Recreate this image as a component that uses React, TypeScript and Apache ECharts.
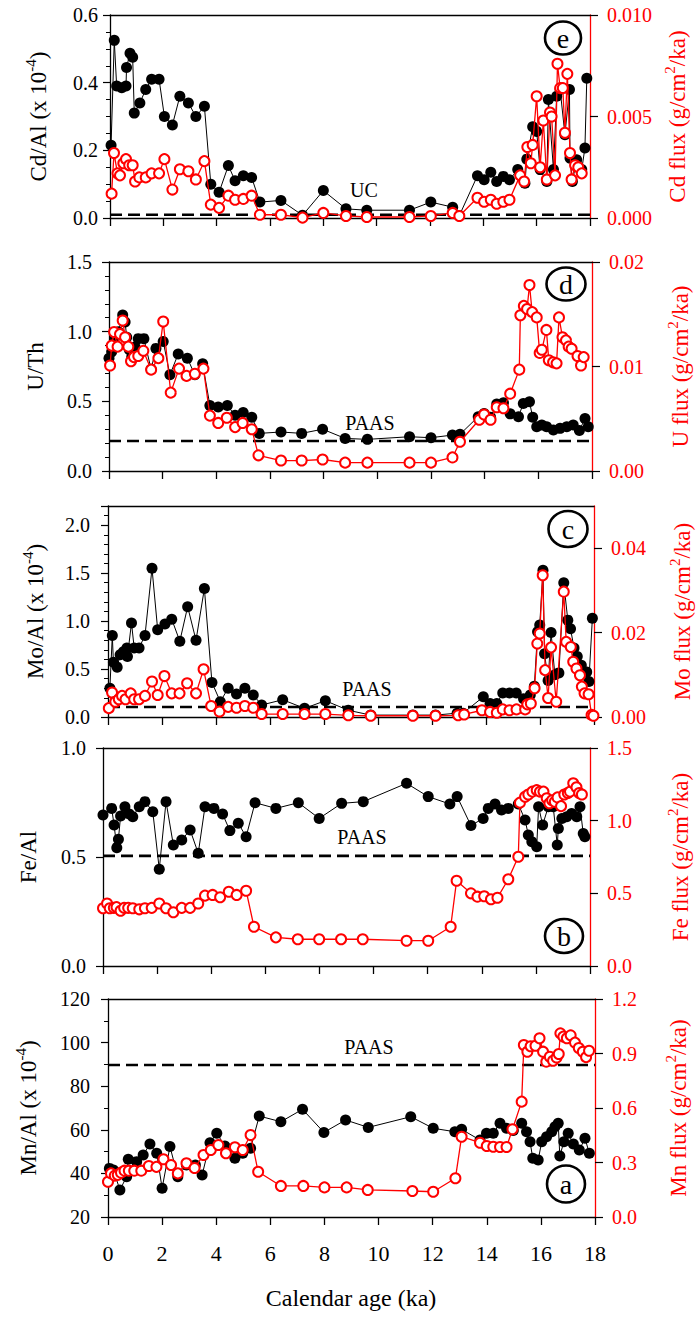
import React, { useEffect, useRef } from "react";
import * as echarts from "echarts";

// ---------- data (age in ka) ----------
// Panel e: Cd/Al (x10^-4) and Cd flux
const eAge = [0.04,0.16,0.25,0.44,0.6,0.62,0.75,0.85,0.91,1.12,1.34,1.56,1.84,2.04,2.34,2.62,2.94,3.22,3.54,3.78,4.09,4.44,4.69,5.0,5.31,5.62,6.41,7.22,8.0,8.85,9.63,11.23,12.03,12.85,13.1,13.78,14.03,14.28,14.5,14.75,14.98,15.29,15.56,15.63,15.85,16.0,16.13,16.38,16.44,16.63,16.75,16.88,17.06,17.23,17.25,17.34,17.5,17.69,17.81,17.88];
const eCdAl = [0.215,0.525,0.39,0.385,0.39,0.445,0.487,0.475,0.31,0.34,0.38,0.41,0.41,0.30,0.275,0.36,0.34,0.30,0.33,0.10,0.076,0.155,0.11,0.125,0.12,0.047,0.052,0.008,0.081,0.027,0.023,0.023,0.047,0.032,0.007,0.125,0.113,0.135,0.108,0.123,0.113,0.143,0.103,0.174,0.27,0.256,0.143,0.108,0.35,0.143,0.36,0.38,0.246,0.38,0.177,0.108,0.172,0.143,0.207,0.413];
const eFluxAge = [0.06,0.15,0.28,0.375,0.5,0.6,0.72,0.85,0.94,1.1,1.34,1.56,1.84,2.04,2.34,2.62,2.94,3.22,3.54,3.78,4.09,4.44,4.69,5.0,5.31,5.62,6.41,7.22,8.0,8.85,9.63,11.23,12.03,12.85,13.1,13.78,14.03,14.28,14.5,14.75,14.98,15.38,15.53,15.65,15.78,15.85,16.0,16.13,16.25,16.38,16.5,16.56,16.69,16.78,16.88,16.98,17.06,17.15,17.25,17.31,17.44,17.56,17.69];
const eCdFlux = [0.0012,0.0032,0.0022,0.0021,0.0027,0.0029,0.0026,0.0026,0.0018,0.002,0.002,0.0022,0.0022,0.0029,0.0014,0.0024,0.0023,0.0019,0.0028,0.00066,0.0005,0.0011,0.0009,0.00094,0.0011,0.00016,0.00016,0.00002,0.00025,0.0001,0.00005,0.00005,0.0001,0.00025,0.0001,0.001,0.0008,0.0009,0.0007,0.0008,0.0009,0.0021,0.0018,0.0035,0.0027,0.0036,0.006,0.0025,0.0048,0.0019,0.0052,0.005,0.0021,0.0076,0.0064,0.0064,0.0042,0.0071,0.0032,0.0019,0.0026,0.0025,0.0022];
const eUC = 0.0098;

// Panel d: U/Th and U flux
const dAge = [0.0,0.1,0.22,0.35,0.51,0.6,0.66,0.76,0.85,0.97,1.09,1.3,1.57,1.75,2.02,2.27,2.58,2.92,3.2,3.49,3.76,4.07,4.41,4.7,5.0,5.32,5.6,6.41,7.18,7.96,8.8,9.63,11.2,12.0,12.8,13.08,13.76,13.98,14.22,14.45,14.7,14.95,15.26,15.44,15.67,15.79,15.94,16.13,16.31,16.56,16.81,17.06,17.3,17.53,17.74,17.86];
const dUTh = [0.81,0.855,0.96,1.0,1.12,1.07,0.96,0.87,0.82,0.89,0.95,0.95,0.73,0.88,0.93,0.69,0.84,0.81,0.69,0.77,0.47,0.46,0.47,0.40,0.42,0.385,0.27,0.28,0.27,0.30,0.234,0.227,0.246,0.239,0.258,0.263,0.39,0.413,0.385,0.48,0.49,0.41,0.39,0.485,0.497,0.385,0.318,0.33,0.318,0.294,0.306,0.318,0.33,0.29,0.377,0.318];
const dFluxAge = [0.04,0.1,0.19,0.32,0.41,0.51,0.6,0.72,0.82,0.93,1.09,1.28,1.57,1.84,2.02,2.3,2.61,2.89,3.2,3.52,3.76,4.07,4.39,4.7,4.98,5.32,5.57,6.41,7.18,7.96,8.8,9.63,11.2,12.0,12.8,13.08,13.8,13.98,14.22,14.45,14.7,14.95,15.29,15.33,15.46,15.58,15.67,15.77,15.94,16.05,16.13,16.3,16.39,16.55,16.68,16.77,16.9,17.03,17.13,17.24,17.46,17.59,17.69];
const dUFlux = [0.0101,0.012,0.0133,0.0119,0.0131,0.0144,0.0128,0.0119,0.0105,0.0109,0.011,0.0115,0.0097,0.0108,0.0143,0.0075,0.0098,0.0091,0.0093,0.0098,0.0053,0.0046,0.0051,0.0042,0.0046,0.004,0.0015,0.001,0.001,0.0011,0.0008,0.0008,0.0008,0.0008,0.0013,0.0028,0.0049,0.0054,0.0049,0.0061,0.006,0.0074,0.0097,0.0149,0.0158,0.0155,0.0178,0.0152,0.0147,0.0113,0.0116,0.0135,0.0106,0.0104,0.0103,0.0147,0.0128,0.0125,0.0119,0.0117,0.011,0.0101,0.0109];
const dPAAS = 0.215;

// Panel c: Mo/Al (x10^-4) and Mo flux
const cAge = [0.07,0.16,0.2,0.34,0.45,0.57,0.7,0.72,0.87,0.97,1.15,1.37,1.63,1.84,2.11,2.36,2.66,2.95,3.26,3.57,3.85,4.16,4.45,4.76,5.07,5.38,5.69,6.47,7.28,8.05,8.9,9.73,11.29,12.13,12.93,13.15,13.9,14.15,14.4,14.62,14.87,15.12,15.39,15.64,15.79,15.91,15.99,16.11,16.17,16.3,16.41,16.55,16.7,16.88,17.03,17.13,17.26,17.38,17.53,17.73,17.81,17.94];
const cMoAl = [0.30,0.85,0.57,0.52,0.65,0.68,0.72,0.63,0.98,0.72,0.72,0.85,1.55,0.91,0.97,1.02,0.79,1.15,0.80,1.34,0.36,0.16,0.30,0.24,0.30,0.23,0.125,0.18,0.09,0.17,0.07,0.02,0.02,0.02,0.04,0.04,0.21,0.14,0.14,0.25,0.25,0.25,0.19,0.23,0.32,0.89,0.96,1.53,0.66,0.38,0.88,0.44,0.46,1.40,1.01,0.92,0.72,0.63,0.54,0.47,0.37,1.03];
const cFluxAge = [0.03,0.15,0.27,0.4,0.52,0.65,0.84,0.97,1.15,1.37,1.63,1.84,2.09,2.36,2.65,2.93,3.26,3.54,3.82,4.13,4.45,4.76,5.07,5.38,5.69,6.47,7.28,8.05,8.9,9.73,11.29,12.13,12.97,13.19,13.85,14.15,14.4,14.62,14.87,15.13,15.45,15.53,15.66,15.8,15.9,15.99,16.1,16.19,16.3,16.41,16.6,16.88,16.97,17.14,17.23,17.35,17.48,17.55,17.65,17.8,17.91,17.98];
const cMoFlux = [0.0021,0.0058,0.0036,0.0042,0.005,0.0042,0.0056,0.0042,0.0042,0.005,0.0084,0.0052,0.0097,0.0056,0.0056,0.008,0.0056,0.0113,0.0026,0.0013,0.0024,0.0022,0.0026,0.0022,0.0007,0.0007,0.0007,0.0007,0.0004,0.0003,0.0003,0.0003,0.0004,0.0006,0.0016,0.0012,0.001,0.0018,0.0016,0.0018,0.0018,0.003,0.0032,0.0068,0.0174,0.0198,0.0336,0.0111,0.0045,0.0165,0.0036,0.0297,0.0178,0.0166,0.0131,0.0115,0.0099,0.0072,0.0056,0.0054,0.0005,0.0003];
const cPAAS = 0.105;
const cFluxTicks = [0, 0.02, 0.04];

// Panel b: Fe/Al and Fe flux
const bAge = [0.0,0.32,0.41,0.51,0.57,0.65,0.81,0.97,1.1,1.34,1.55,1.84,2.08,2.33,2.6,2.91,3.22,3.52,3.77,4.1,4.42,4.69,5.0,5.29,5.62,6.39,7.22,7.99,8.82,9.62,11.22,12.02,12.82,13.09,13.6,14.05,14.24,14.49,14.73,14.98,15.35,15.6,15.72,15.85,16.03,16.1,16.25,16.46,16.64,16.79,16.83,16.96,17.14,17.32,17.51,17.63,17.75,17.81];
const bFeAl = [0.693,0.723,0.647,0.543,0.581,0.688,0.731,0.697,0.685,0.731,0.754,0.708,0.444,0.754,0.555,0.578,0.624,0.517,0.731,0.723,0.697,0.621,0.655,0.593,0.749,0.723,0.749,0.677,0.746,0.754,0.838,0.777,0.743,0.777,0.644,0.677,0.723,0.743,0.716,0.723,0.743,0.670,0.601,0.570,0.547,0.731,0.647,0.731,0.731,0.555,0.631,0.677,0.685,0.700,0.685,0.731,0.608,0.593];
const bFluxAge = [0.0,0.15,0.25,0.4,0.5,0.65,0.78,0.93,1.1,1.34,1.55,1.8,2.08,2.33,2.6,2.91,3.22,3.52,3.77,4.05,4.33,4.65,4.94,5.29,5.58,6.39,7.2,7.99,8.8,9.6,11.22,12.02,12.85,13.07,13.6,13.84,14.09,14.34,14.58,14.98,15.35,15.41,15.6,15.72,15.87,16.03,16.15,16.28,16.4,16.5,16.6,16.7,16.8,16.93,17.05,17.18,17.26,17.38,17.5,17.6,17.7];
const bFeFlux = [0.397,0.43,0.397,0.4,0.405,0.38,0.4,0.4,0.397,0.39,0.397,0.4,0.43,0.397,0.37,0.4,0.4,0.43,0.484,0.489,0.473,0.511,0.489,0.518,0.27,0.197,0.184,0.184,0.184,0.184,0.174,0.174,0.27,0.587,0.5,0.477,0.48,0.459,0.47,0.597,0.752,1.124,1.165,1.18,1.2,1.21,1.2,1.2,1.154,1.12,1.14,1.13,1.16,1.1,1.18,1.19,1.2,1.257,1.23,1.19,1.18];
const bPAAS = 0.505;

// Panel a: Mn/Al (x10^-4) and Mn flux
const aAge = [0.0,0.05,0.2,0.44,0.69,0.75,1.06,1.3,1.55,1.8,2.0,2.29,2.58,2.9,3.23,3.48,3.77,4.02,4.32,4.69,4.98,5.27,5.59,6.39,7.19,7.98,8.78,9.62,11.19,12.02,12.82,13.07,13.75,13.99,14.24,14.49,14.73,14.98,15.29,15.47,15.6,15.7,15.9,16.03,16.21,16.4,16.52,16.64,16.7,16.85,17.01,17.2,17.42,17.63,17.79];
const aMnAl = [36.2,42.3,41.6,32.4,38.5,46.5,45.4,48.4,53.5,49.2,33.2,52.3,38.5,43.9,43.9,39.3,54.1,58.4,52.6,46.9,49.2,51.5,66.3,63.7,69.4,58.8,64.5,61.1,66.0,60.7,59.1,60.2,55.3,58.4,58.4,63.0,60.7,59.7,63.0,59.1,54.5,46.9,46.1,54.5,56.8,59.1,61.4,63.0,48.0,54.5,58.4,53.5,50.7,56.1,49.2];
const aFluxAge = [0.0,0.11,0.25,0.36,0.48,0.61,0.77,0.97,1.23,1.51,1.79,2.05,2.33,2.58,2.9,3.2,3.53,3.8,4.08,4.36,4.69,4.98,5.27,5.55,6.39,7.22,8.0,8.82,9.6,11.25,12.02,12.84,13.07,13.75,14.0,14.24,14.49,14.73,14.95,15.29,15.37,15.5,15.62,15.8,15.95,16.08,16.2,16.33,16.45,16.58,16.66,16.72,16.83,16.96,17.1,17.26,17.4,17.55,17.67,17.78];
const aMnFlux = [0.194,0.24,0.228,0.232,0.244,0.255,0.255,0.255,0.255,0.281,0.276,0.318,0.286,0.24,0.296,0.27,0.341,0.369,0.396,0.351,0.384,0.369,0.451,0.249,0.171,0.171,0.163,0.163,0.149,0.143,0.139,0.213,0.442,0.409,0.391,0.387,0.385,0.385,0.483,0.635,0.947,0.91,0.94,0.943,0.984,0.91,0.855,0.882,0.86,0.878,0.897,1.011,0.993,0.984,1.0,0.96,0.93,0.91,0.88,0.915];
const aPAAS = 89.7;

const xTicks = [0, 2, 4, 6, 8, 10, 12, 14, 16, 18];

// ---------- styling / layout ----------
const FONT = "Liberation Serif";
const RED = "#ff0000";
const BLACK = "#000000";

const pairs = (xs: number[], ys: number[]) => xs.map((x, i) => [x, ys[i]]);

type Panel = {
  letter: string;
  grid: { left: number; top: number; width: number; height: number };
  yL: { min: number; max: number; interval: number; minor: number; digits: number; margin: number; hideAbove?: number };
  yR: { min: number; max: number; interval: number; digits: number; hideAbove?: number; custom?: number[] };
  black: number[][];
  red: number[][];
  ref: number;
  refLabel: string;
  refPos: [number, number];
  leftTitle: string;
  leftX: number;
  rightTitle: string;
  rightX: number;
  circle: [number, number, number, number];
};

const panels: Panel[] = [
  {
    letter: "e",
    grid: { left: 110, top: 15, width: 480, height: 203 },
    yL: { min: 0, max: 0.6, interval: 0.2, minor: 4, digits: 1, margin: 12 },
    yR: { min: 0, max: 0.01, interval: 0.005, digits: 3 },
    black: pairs(eAge, eCdAl),
    red: pairs(eFluxAge, eCdFlux),
    ref: eUC, refLabel: "UC", refPos: [364, 190],
    leftTitle: "Cd/Al (x 10{sup|-4})", leftX: 38,
    rightTitle: "Cd flux (g/cm{sup|2}/ka)", rightX: 677,
    circle: [563, 38, 18, 16.5],
  },
  {
    letter: "d",
    grid: { left: 109, top: 262, width: 483, height: 209 },
    yL: { min: 0, max: 1.5, interval: 0.5, minor: 5, digits: 1, margin: 17 },
    yR: { min: 0, max: 0.02, interval: 0.01, digits: 2 },
    black: pairs(dAge, dUTh),
    red: pairs(dFluxAge, dUFlux),
    ref: dPAAS, refLabel: "PAAS", refPos: [370, 423],
    leftTitle: "U/Th", leftX: 35,
    rightTitle: "U flux (g/cm{sup|2}/ka)", rightX: 680,
    circle: [566, 284, 19.5, 16.5],
  },
  {
    letter: "c",
    grid: { left: 108, top: 506, width: 486, height: 211 },
    yL: { min: 0, max: 2.2, interval: 0.5, minor: 5, digits: 1, margin: 18, hideAbove: 2.05 },
    yR: { min: 0, max: 0.05, interval: 0.02, digits: 2, hideAbove: 0.045, custom: cFluxTicks },
    black: pairs(cAge, cMoAl),
    red: pairs(cFluxAge, cMoFlux),
    ref: cPAAS, refLabel: "PAAS", refPos: [367, 689],
    leftTitle: "Mo/Al (x 10{sup|-4})", leftX: 35,
    rightTitle: "Mo flux (g/cm{sup|2}/ka)", rightX: 682,
    circle: [568, 529, 19.5, 18],
  },
  {
    letter: "b",
    grid: { left: 103, top: 748, width: 487, height: 218 },
    yL: { min: 0, max: 1.0, interval: 0.5, minor: 0, digits: 1, margin: 17 },
    yR: { min: 0, max: 1.5, interval: 0.5, digits: 1 },
    black: pairs(bAge, bFeAl),
    red: pairs(bFluxAge, bFeFlux),
    ref: bPAAS, refLabel: "PAAS", refPos: [362, 837],
    leftTitle: "Fe/Al", leftX: 28,
    rightTitle: "Fe flux (g/cm{sup|2}/ka)", rightX: 680,
    circle: [564, 936, 19, 17],
  },
  {
    letter: "a",
    grid: { left: 108, top: 999, width: 487, height: 218 },
    yL: { min: 20, max: 120, interval: 20, minor: 2, digits: 0, margin: 18 },
    yR: { min: 0, max: 1.2, interval: 0.3, digits: 1 },
    black: pairs(aAge, aMnAl),
    red: pairs(aFluxAge, aMnFlux),
    ref: aPAAS, refLabel: "PAAS", refPos: [369, 1047],
    leftTitle: "Mn/Al (x 10{sup|-4})", leftX: 28,
    rightTitle: "Mn flux (g/cm{sup|2}/ka)", rightX: 678,
    circle: [566, 1184, 19, 18.5],
  },
];

function buildOption() {
  const grids: any[] = [];
  const xAxes: any[] = [];
  const yAxes: any[] = [];
  const series: any[] = [];
  const graphics: any[] = [];

  panels.forEach((p, i) => {
    const isLast = i === panels.length - 1;
    grids.push({ ...p.grid, containLabel: false });
    xAxes.push({
      type: "value", gridIndex: i, position: "bottom", min: 0, max: 18, interval: 2,
      axisLine: { show: true, onZero: false, lineStyle: { color: BLACK, width: 1.3 } },
      axisTick: { show: true, inside: false, length: 8, lineStyle: { color: BLACK, width: 1.3 } },
      axisLabel: {
        show: isLast, margin: 25, fontSize: 22, color: BLACK, fontFamily: FONT,
        formatter: (v: number) => (xTicks.includes(v) ? String(v) : ""),
      },
      splitLine: { show: false },
    });
    xAxes.push({
      type: "value", gridIndex: i, position: "top", min: 0, max: 18,
      axisLine: { show: true, onZero: false, lineStyle: { color: BLACK, width: 1.3 } },
      axisTick: { show: false }, axisLabel: { show: false }, splitLine: { show: false },
    });
    const yl = p.yL;
    yAxes.push({
      type: "value", gridIndex: i, position: "left", min: yl.min, max: yl.max, interval: yl.interval,
      axisLine: { show: true, onZero: false, lineStyle: { color: BLACK, width: 1.3 } },
      axisTick: { show: true, inside: false, length: 7, lineStyle: { color: BLACK, width: 1.2 } },
      minorTick: { show: yl.minor > 0, splitNumber: yl.minor || 5, length: 4, lineStyle: { color: BLACK, width: 1 } },
      axisLabel: {
        margin: yl.margin, fontSize: 20, color: BLACK, fontFamily: FONT,
        formatter: (v: number) => (yl.hideAbove !== undefined && v > yl.hideAbove ? "" : v.toFixed(yl.digits)),
      },
      splitLine: { show: false },
    });
    const yr = p.yR;
    const rTick: any = { show: true, inside: false, length: 8, lineStyle: { color: BLACK, width: 1.2 } };
    const rLabel: any = {
      margin: 17, fontSize: 20, color: RED, fontFamily: FONT,
      formatter: (v: number) => (yr.hideAbove !== undefined && v > yr.hideAbove ? "" : v.toFixed(yr.digits)),
    };
    if (yr.custom) {
      rTick.customValues = yr.custom;
      rLabel.customValues = yr.custom;
    }
    yAxes.push({
      type: "value", gridIndex: i, position: "right", min: yr.min, max: yr.max, interval: yr.interval,
      axisLine: { show: true, onZero: false, lineStyle: { color: RED, width: 1.3 } },
      axisTick: rTick,
      axisLabel: rLabel,
      splitLine: { show: false },
    });

    // reference dashed line
    series.push({
      type: "line", xAxisIndex: 2 * i, yAxisIndex: 2 * i, data: [[0, p.ref], [18, p.ref]],
      symbol: "none", silent: true, z: 1,
      lineStyle: { color: BLACK, width: 2.6, type: [12, 6] },
    });
    // ratio (black filled)
    series.push({
      type: "line", xAxisIndex: 2 * i, yAxisIndex: 2 * i, data: p.black, z: 2,
      symbol: "circle", symbolSize: 11, itemStyle: { color: BLACK },
      lineStyle: { color: BLACK, width: 1 },
    });
    // flux (red open)
    series.push({
      type: "line", xAxisIndex: 2 * i, yAxisIndex: 2 * i + 1, data: p.red, z: 3,
      symbol: "emptyCircle", symbolSize: 10,
      itemStyle: { color: RED, borderColor: RED, borderWidth: 1.3 },
      lineStyle: { color: RED, width: 1.3 },
    });

    const cy = p.grid.top + p.grid.height / 2;
    graphics.push({
      type: "text", x: p.leftX, y: cy, rotation: Math.PI / 2,
      style: {
        text: p.leftTitle, fill: BLACK, fontSize: 23, fontFamily: FONT, lineHeight: 30,
        textAlign: "center", textVerticalAlign: "middle",
        rich: { sup: { fontSize: 15, fontFamily: FONT, fill: BLACK, verticalAlign: "top", lineHeight: 30 } },
      },
    });
    graphics.push({
      type: "text", x: p.rightX, y: cy, rotation: Math.PI / 2,
      style: {
        text: p.rightTitle, fill: RED, fontSize: 23, fontFamily: FONT, lineHeight: 30,
        textAlign: "center", textVerticalAlign: "middle",
        rich: { sup: { fontSize: 15, fontFamily: FONT, fill: RED, verticalAlign: "top", lineHeight: 30 } },
      },
    });
    graphics.push({
      type: "text", x: p.refPos[0], y: p.refPos[1],
      style: { text: p.refLabel, fill: BLACK, fontSize: 20, fontFamily: FONT, textAlign: "center", textVerticalAlign: "middle" },
    });
    const [ccx, ccy, crx, cry] = p.circle;
    graphics.push({
      type: "ellipse", shape: { cx: ccx, cy: ccy, rx: crx, ry: cry },
      style: { fill: "none", stroke: BLACK, lineWidth: 2.6 },
    });
    graphics.push({
      type: "text", x: ccx, y: ccy,
      style: { text: p.letter, fill: BLACK, fontSize: 28, fontFamily: FONT, textAlign: "center", textVerticalAlign: "middle" },
    });
  });

  graphics.push({
    type: "text", x: 351, y: 1298,
    style: { text: "Calendar age (ka)", fill: BLACK, fontSize: 24, fontFamily: FONT, textAlign: "center", textVerticalAlign: "middle" },
  });

  return {
    animation: false,
    backgroundColor: "#ffffff",
    textStyle: { fontFamily: FONT },
    grid: grids,
    xAxis: xAxes,
    yAxis: yAxes,
    series,
    graphic: graphics,
  };
}

export default function App() {
  const ref = useRef<HTMLDivElement>(null);
  useEffect(() => {
    if (!ref.current) return;
    const chart = echarts.init(ref.current, undefined, { renderer: "svg" });
    chart.setOption(buildOption() as any);
    return () => chart.dispose();
  }, []);
  return (
    <div
      ref={ref}
      style={{ position: "absolute", left: 0, top: 0, width: 696, height: 1317, background: "#fff" }}
    />
  );
}
